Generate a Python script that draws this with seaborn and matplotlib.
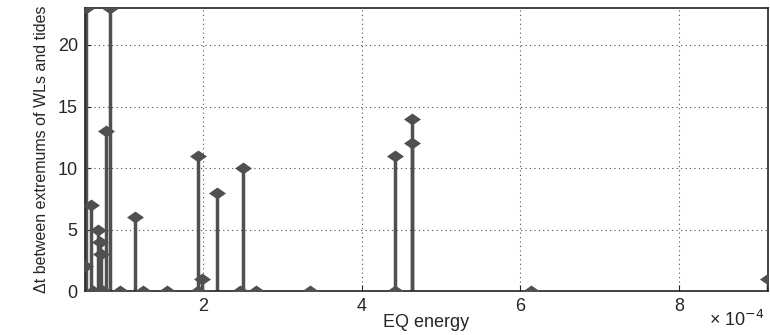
import matplotlib
matplotlib.use("Agg")
import matplotlib.pyplot as plt
import matplotlib.ticker as mticker
import numpy as np
import pandas as pd
import seaborn as sns

# EQ energy (units of 1e-4) and time lag between extremums
eq_energy = [0.505, 0.526, 0.589, 0.61, 0.673, 0.695, 0.711, 0.736, 0.778, 0.828,
             0.947, 1.14, 1.24, 1.54, 1.94, 1.94, 1.985, 2.17, 2.46, 2.505,
             2.67, 3.35, 4.42, 4.42, 4.63, 4.63, 6.14, 9.12]
delta_t = [2, 23, 7, 0, 5, 4, 3, 0, 13, 23,
           0, 6, 0, 0, 11, 0, 1, 8, 0, 10,
           0, 0, 0, 11, 14, 12, 0, 1]

df = pd.DataFrame({"energy": np.array(eq_energy) * 1e-4, "dt": delta_t})

sns.set_style("ticks")
plt.rcParams['font.family'] = ['Liberation Sans', 'DejaVu Sans']
color = "#505050"
# flattened diamond, like the squeezed matlab stem marker
diamond = [(-1, 0), (0, 0.7), (1, 0), (0, -0.7), (-1, 0)]

fig = plt.figure(figsize=(7.7, 3.35), dpi=100)
ax = fig.add_axes([0.110, 0.131, 0.887, 0.845])

ax.vlines(df["energy"], 0, df["dt"], color=color, linewidth=2.5, zorder=2)
sns.scatterplot(data=df, x="energy", y="dt", marker=diamond, s=150, color=color,
                edgecolor=color, linewidth=0, ax=ax, zorder=3)

ax.set_xlim(df["energy"].min(), df["energy"].max())
ax.set_ylim(0, 23)
ax.set_xticks([2e-4, 4e-4, 6e-4, 8e-4])
ax.set_yticks([0, 5, 10, 15, 20])
ax.xaxis.set_major_formatter(mticker.FuncFormatter(lambda v, p: f"{v * 1e4:g}"))

ax.grid(True, linestyle=(0, (1, 3)), color="black", linewidth=0.8, alpha=0.7)
ax.tick_params(direction="in", length=4, labelsize=13, top=False, right=False, pad=5)
for s in ax.spines.values():
    s.set_linewidth(1.2)
    s.set_color("#222222")

ax.set_xlabel("EQ energy", fontsize=13, labelpad=-1)
ax.set_ylabel("Δt between extremums of WLs and tides", fontsize=11.5, labelpad=6)
fig.text(0.993, 0.015, "× 10$^{-4}$", ha="right", va="bottom", fontsize=13)

fig.savefig("out.png", dpi=100)
